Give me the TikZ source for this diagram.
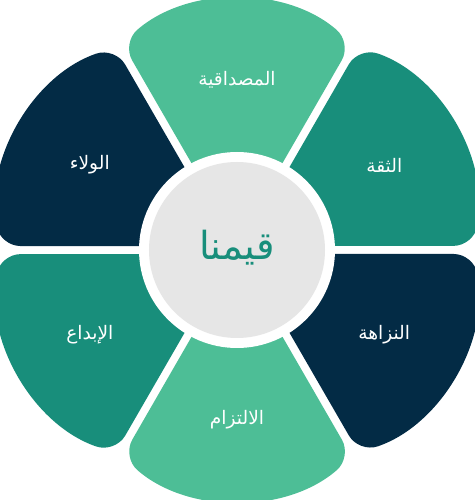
\documentclass[tikz,border=0pt]{standalone}
\usepackage{fontspec}
\usepackage{tikz}
\newfontfamily\arabicfont[Script=Arabic]{DejaVu Sans}
\TeXXeTstate=1
\definecolor{valmint}{RGB}{77,190,150}
\definecolor{valteal}{RGB}{24,142,123}
\definecolor{valnavy}{RGB}{3,43,69}
\definecolor{valgray}{RGB}{230,230,230}

\begin{document}
\begin{tikzpicture}[
  x=0.02cm, y=0.02cm,
  petal/.style={rounded corners=0.4cm},
  val/.style={text=white, font=\arabicfont\fontsize{10.6}{12}\selectfont},
  core/.style={text=valteal, font=\arabicfont\fontsize{22}{26}\selectfont},
]
\useasboundingbox (-237,-250) rectangle (237,250);
% six petals, white gaps come from the offset edges
\foreach \a/\c/\t [count=\i] in {90/valmint/المصداقية, 30/valteal/الثقة,
    -30/valnavy/النزاهة, -90/valmint/الالتزام, -150/valteal/الإبداع,
    150/valnavy/الولاء} {
  \fill[\c, petal, rotate=\a] (8,0) -- (207,114.9)
    arc[start angle=41, end angle=-41, radius=175] -- cycle;
  \node[val] (val\i) at (\a:170) {\beginR\t\endR};
}
% centre disc with white ring
\fill[white] (0,0) circle[radius=98];
\fill[valgray] (0,0) circle[radius=88];
\node[core] (core) at (0,2) {\beginR قيمنا\endR};
\end{tikzpicture}
\end{document}
